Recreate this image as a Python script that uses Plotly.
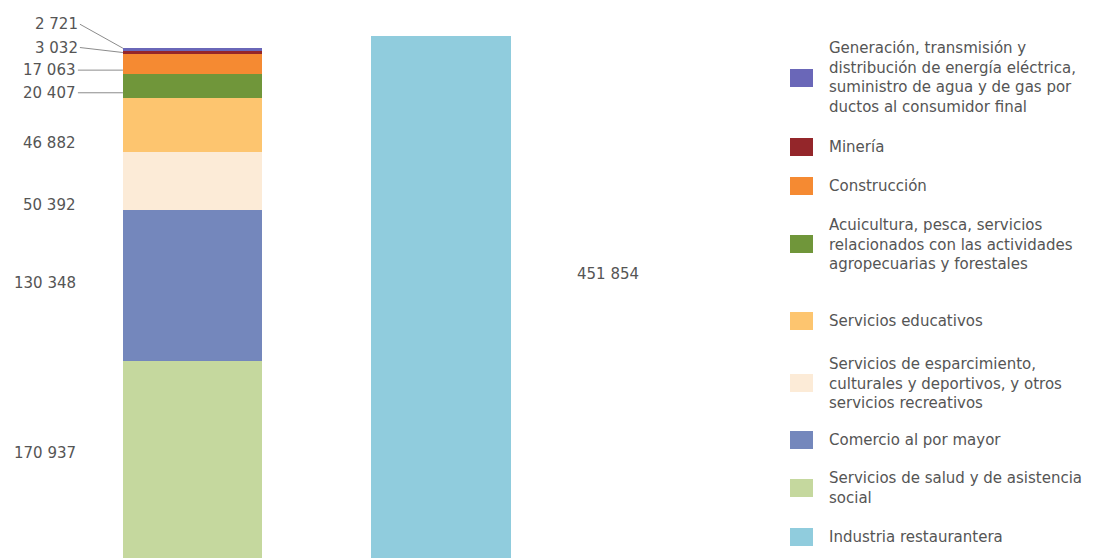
import plotly.graph_objects as go

# ---------------- data ----------------
categories = ["sector", "restaurantes"]

# stacked segments of the first bar, bottom to top
seg_names = [
    "Servicios de salud y de asistencia social",
    "Comercio al por mayor",
    "Servicios de esparcimiento, culturales y deportivos, y otros servicios recreativos",
    "Servicios educativos",
    "Acuicultura, pesca, servicios relacionados con las actividades agropecuarias y forestales",
    "Construcción",
    "Minería",
    "Generación, transmisión y distribución de energía eléctrica, suministro de agua y de gas por ductos al consumidor final",
]
seg_values = [170937, 130348, 50392, 46882, 20407, 17063, 3032, 2721]
seg_labels = ["170 937", "130 348", "50 392", "46 882", "20 407", "17 063", "3 032", "2 721"]

rest_name = "Industria restaurantera"
rest_value = 451854
rest_label = "451 854"

# legend texts (top to bottom), with the reference's line breaks
legend_texts = [
    "Generación, transmisión y<br>distribución de energía eléctrica,<br>suministro de agua y de gas por<br>ductos al consumidor final",
    "Minería",
    "Construcción",
    "Acuicultura, pesca, servicios<br>relacionados con las actividades<br>agropecuarias y forestales",
    "Servicios educativos",
    "Servicios de esparcimiento,<br>culturales y deportivos, y otros<br>servicios recreativos",
    "Comercio al por mayor",
    "Servicios de salud y de asistencia<br>social",
    "Industria restaurantera",
]

# ---------------- styles / layout ----------------
seg_colors = ["#C5D89E", "#7487BC", "#FCEBD7", "#FDC56F", "#70963A", "#F58A32", "#94262A", "#6A67B8"]
rest_color = "#90CCDD"
legend_colors = [seg_colors[7], seg_colors[6], seg_colors[5], seg_colors[4], seg_colors[3],
                 seg_colors[2], seg_colors[1], seg_colors[0], rest_color]
legend_y_px = [78, 147, 186, 244, 321, 383, 440, 488, 537]

W, H = 1104, 558
BAR_W = 0.56
TEXT = "#555555"
FONT = "DejaVu Sans"
LABEL_SIZE = 15

# pixel offsets (screen, + = down) of each label from its segment middle
label_dy = [-6, -2, 24, 18, 7, 6, 0, -1]
# text offset for leader-lined labels (ax, ay) ; None = plain label
leader = [None, None, None, None, (-45, 0), (-45, 0), (-43, -5), (-43, -24)]

fig = go.Figure()

for name, val, col in zip(seg_names, seg_values, seg_colors):
    fig.add_trace(go.Bar(x=[categories[0]], y=[val], name=name,
                         marker=dict(color=col, line=dict(width=0)),
                         width=BAR_W, showlegend=False))
fig.add_trace(go.Bar(x=[categories[1]], y=[rest_value], name=rest_name,
                     marker=dict(color=rest_color, line=dict(width=0)),
                     width=BAR_W, showlegend=False))

annotations = []
shapes = []

# value labels of the stacked bar
cum = 0
for val, lab, dy, ld in zip(seg_values, seg_labels, label_dy, leader):
    mid = cum + val / 2
    cum += val
    if ld is None:
        annotations.append(dict(x=0 - BAR_W / 2, y=mid, xref="x", yref="y",
                                text=lab, showarrow=False, xanchor="right", yanchor="middle",
                                xshift=-45, yshift=-dy,
                                font=dict(family=FONT, size=LABEL_SIZE, color=TEXT)))
    else:
        annotations.append(dict(x=0 - BAR_W / 2, y=mid, xref="x", yref="y",
                                text=lab, showarrow=True, arrowhead=0, arrowwidth=1,
                                arrowcolor="#8c8c8c", standoff=0, startstandoff=0,
                                ax=ld[0], ay=ld[1], xanchor="right", yanchor="middle",
                                yshift=-dy,
                                font=dict(family=FONT, size=LABEL_SIZE, color=TEXT)))

# label of the restaurant bar
annotations.append(dict(x=1, y=rest_value / 2, xref="x", yref="y", text=rest_label,
                        showarrow=False, xanchor="left", yanchor="middle",
                        xshift=134, yshift=23,
                        font=dict(family=FONT, size=LABEL_SIZE, color=TEXT)))

# manual legend
BOX_X0, BOX_X1, BOX_H = 790, 813, 18
TEXT_X = 827
for txt, col, yc in zip(legend_texts, legend_colors, legend_y_px):
    shapes.append(dict(type="rect", xref="paper", yref="paper",
                       x0=BOX_X0 / W, x1=BOX_X1 / W,
                       y0=1 - (yc + BOX_H / 2) / H, y1=1 - (yc - BOX_H / 2) / H,
                       fillcolor=col, line=dict(width=0)))
    annotations.append(dict(x=TEXT_X / W, y=1 - yc / H, xref="paper", yref="paper",
                            text=txt, showarrow=False, xanchor="left", yanchor="middle",
                            align="left",
                            font=dict(family=FONT, size=15, color=TEXT)))

# axes: category spacing 248.5 px, first bar centre at x=192.5 px
PX_PER_CAT = 248.5
X0_PX = 192.5
y_top = rest_value * H / (H - 36)

fig.update_layout(
    width=W, height=H,
    margin=dict(l=0, r=0, t=0, b=0),
    paper_bgcolor="white", plot_bgcolor="white",
    barmode="stack", bargap=0,
    showlegend=False,
    xaxis=dict(type="category", categoryorder="array", categoryarray=categories,
               range=[-X0_PX / PX_PER_CAT, (W - X0_PX) / PX_PER_CAT],
               visible=False, fixedrange=True),
    yaxis=dict(range=[0, y_top], visible=False, fixedrange=True),
    annotations=annotations,
    shapes=shapes,
)

fig.write_html("out.html")
